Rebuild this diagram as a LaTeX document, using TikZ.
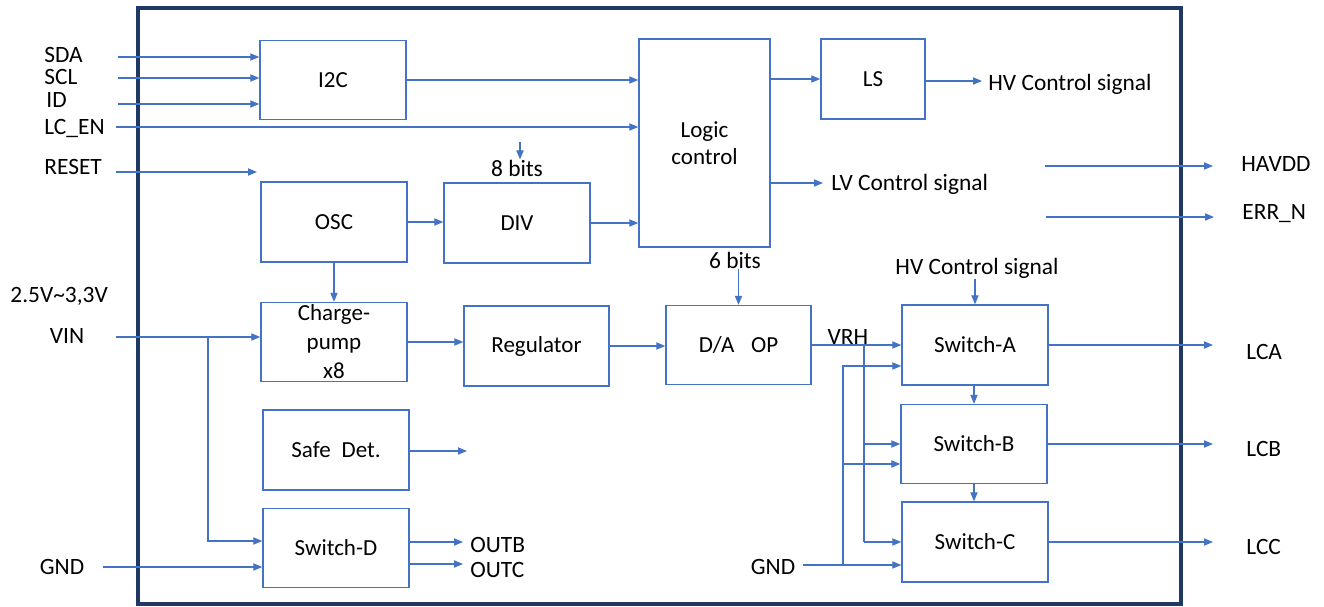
\documentclass[tikz,border=0pt]{standalone}
\usepackage{fontspec}
\setmainfont{Carlito}
\usetikzlibrary{arrows.meta,calc}
\definecolor{ln}{HTML}{4472C4}
\definecolor{frm}{HTML}{1F3864}
\begin{document}
\begin{tikzpicture}[x=0.5pt,y=-0.5pt,
  blk/.style={draw=ln, line width=0.7pt, fill=white, inner sep=0pt, align=center, font=\fontsize{11.5}{13.5}\selectfont},
  sz/.style 2 args={minimum width=#1*0.5pt, minimum height=#2*0.5pt},
  arr/.style={draw=ln, line width=0.6pt, -{Triangle[length=4.5pt,width=3.6pt]}},
  wire/.style={draw=ln, line width=0.6pt},
  lbl/.style={inner sep=0pt, font=\fontsize{11.7}{13}\selectfont},
]
\useasboundingbox (0,0) rectangle (1324,606);
\draw[frm, line width=1.6pt] (138,8) rectangle (1181,604);

% blocks
\node[blk, sz={146}{79}] (i2c) at (333,80) {I2C};
\node[blk, sz={131}{208}] (logic) at (704.5,143) {Logic\\control};
\node[blk, sz={104}{80}] (ls) at (873,79) {LS};
\node[blk, sz={146}{80}] (osc) at (334,222) {OSC};
\node[blk, sz={146}{80}] (div) at (517,223) {DIV};
\node[blk, sz={146}{79}, font=\fontsize{11.5}{14.5}\selectfont] (cp) at (334,342) {Charge-\\pump\\x8};
\node[blk, sz={146}{80}] (safe) at (336,450) {Safe\hspace{0.25em} Det.};
\node[blk, sz={146}{79}] (swd) at (336,548) {Switch-D};
\node[blk, sz={145}{80}] (reg) at (536.5,346) {Regulator};
\node[blk, sz={145}{79}] (da) at (738.5,345) {D/A\hspace{0.5em} OP};
\node[blk, sz={146}{80}] (swa) at (975,345) {Switch-A};
\node[blk, sz={146}{79}] (swb) at (974,444) {Switch-B};
\node[blk, sz={146}{80}] (swc) at (975,542) {Switch-C};

% labels
\node[lbl, anchor=west] (lsda) at (44,55) {SDA};
\node[lbl, anchor=west] (lscl) at (44,77) {SCL};
\node[lbl, anchor=west] (lid) at (46,100) {ID};
\node[lbl, anchor=west] (llcen) at (44,128) {LC\_EN};
\node[lbl, anchor=west] (lreset) at (44,167) {RESET};
\node[lbl, anchor=west] (lvr) at (10,296) {2.5V\textasciitilde3,3V};
\node[lbl] (lvin) at (67,336) {VIN};
\node[lbl] (lgndl) at (62,567) {GND};
\node[lbl] (lgndr) at (773,567) {GND};
\node[lbl, anchor=west] (lhv) at (988,84) {HV Control signal};
\node[lbl, anchor=west] (llv) at (831,184) {LV Control signal};
\node[lbl] (l8) at (517,168) {8 bits};
\node[lbl] (l6) at (735,260) {6 bits};
\node[lbl] (lhv2) at (977,268) {HV Control signal};
\node[lbl] (lvrh) at (848,337) {VRH};
\node[lbl, anchor=west] (lhavdd) at (1241,164) {HAVDD};
\node[lbl, anchor=west] (lerr) at (1242,214) {ERR\_N};
\node[lbl, anchor=west] (llca) at (1246,352) {LCA};
\node[lbl, anchor=west] (llcb) at (1246,449) {LCB};
\node[lbl, anchor=west] (llcc) at (1246,547) {LCC};
\node[lbl, anchor=west] (loutb) at (470,545) {OUTB};
\node[lbl, anchor=west] (loutc) at (470,570) {OUTC};

% free ends
\coordinate (sdaS) at (118,57);
\coordinate (sclS) at (118,78);
\coordinate (idS) at (118,104);
\coordinate (lcenS) at (116,127);
\coordinate (resetS) at (116,172);
\coordinate (resetE) at (257,172);
\coordinate (b8S) at (520,142);
\coordinate (vinS) at (116,337);
\coordinate (vj) at (208,337);
\coordinate (gndLS) at (103,567);
\coordinate (gndRS) at (803,565);
\coordinate (gj) at (843,565);
\coordinate (vrhj) at (864,345);
\coordinate (havS) at (1045,166);
\coordinate (havE) at (1213,166);
\coordinate (errS) at (1046,217);
\coordinate (errE) at (1214,217);
\coordinate (safeE) at (467,451);
\coordinate (ob) at (463,542);
\coordinate (oc) at (463,564);
\coordinate (hvE) at (982,81);
\coordinate (lvE) at (823,183);
\coordinate (outX) at (1213,0);

% inputs
\draw[arr] (sdaS) -- (sdaS -| i2c.west);
\draw[arr] (sclS) -- (sclS -| i2c.west);
\draw[arr] (idS) -- (idS -| i2c.west);
\draw[arr] (lcenS) -- (lcenS -| logic.west);
\draw[arr] (resetS) -- (resetE);

% top section
\draw[arr] (i2c.east) -- (i2c.east -| logic.west);
\draw[arr] (logic.east |- ls.west) -- (ls.west);
\draw[arr] (ls.east |- hvE) -- (hvE);
\draw[arr] (logic.east |- lvE) -- (lvE);
\draw[arr] (b8S) -- (b8S |- l8.north);
\draw[arr] (osc.east) -- (osc.east -| div.west);
\draw[arr] (div.east) -- (div.east -| logic.west);
\draw[arr] (l6.south -| da.north) -- (da.north);
\draw[arr] (osc.south) -- (cp.north);

% power path
\draw[arr] (vinS) -- (vinS -| cp.west);
\draw[arr] (vj) |- ($(swd.west)+(0,-7)$);
\draw[arr] (gndLS) -- (gndLS -| swd.west);
\draw[arr] (cp.east) -- (cp.east -| reg.west);
\draw[arr] (reg.east) -- (reg.east -| da.west);
\draw[arr] (da.east) -- (da.east -| swa.west);
\draw[arr] (safe.east |- safeE) -- (safeE);
\draw[arr] (swd.east |- ob) -- (ob);
\draw[arr] (swd.east |- oc) -- (oc);

% switch wiring
\draw[wire] (vrhj) -- (vrhj |- swc.west);
\draw[arr] (vrhj |- swb.west) -- (swb.west);
\draw[arr] (vrhj |- swc.west) -- (swc.west);
\draw[arr] (gndRS) -- (gndRS -| swc.west);
\draw[arr] (gj) |- ($(swa.west)+(0,21)$);
\draw[arr] ($(gj |- swb.west)+(0,20)$) -- ($(swb.west)+(0,20)$);
\draw[arr] (swa.south -| swb.north) -- (swb.north);
\draw[arr] (swb.south) -- (swb.south |- swc.north);
\draw[arr] (lhv2.south -| swa.north) -- (swa.north);

% outputs
\draw[arr] (swa.east) -- (swa.east -| outX);
\draw[arr] (swb.east) -- (swb.east -| outX);
\draw[arr] (swc.east) -- (swc.east -| outX);
\draw[arr] (havS) -- (havE);
\draw[arr] (errS) -- (errE);
\end{tikzpicture}
\end{document}
